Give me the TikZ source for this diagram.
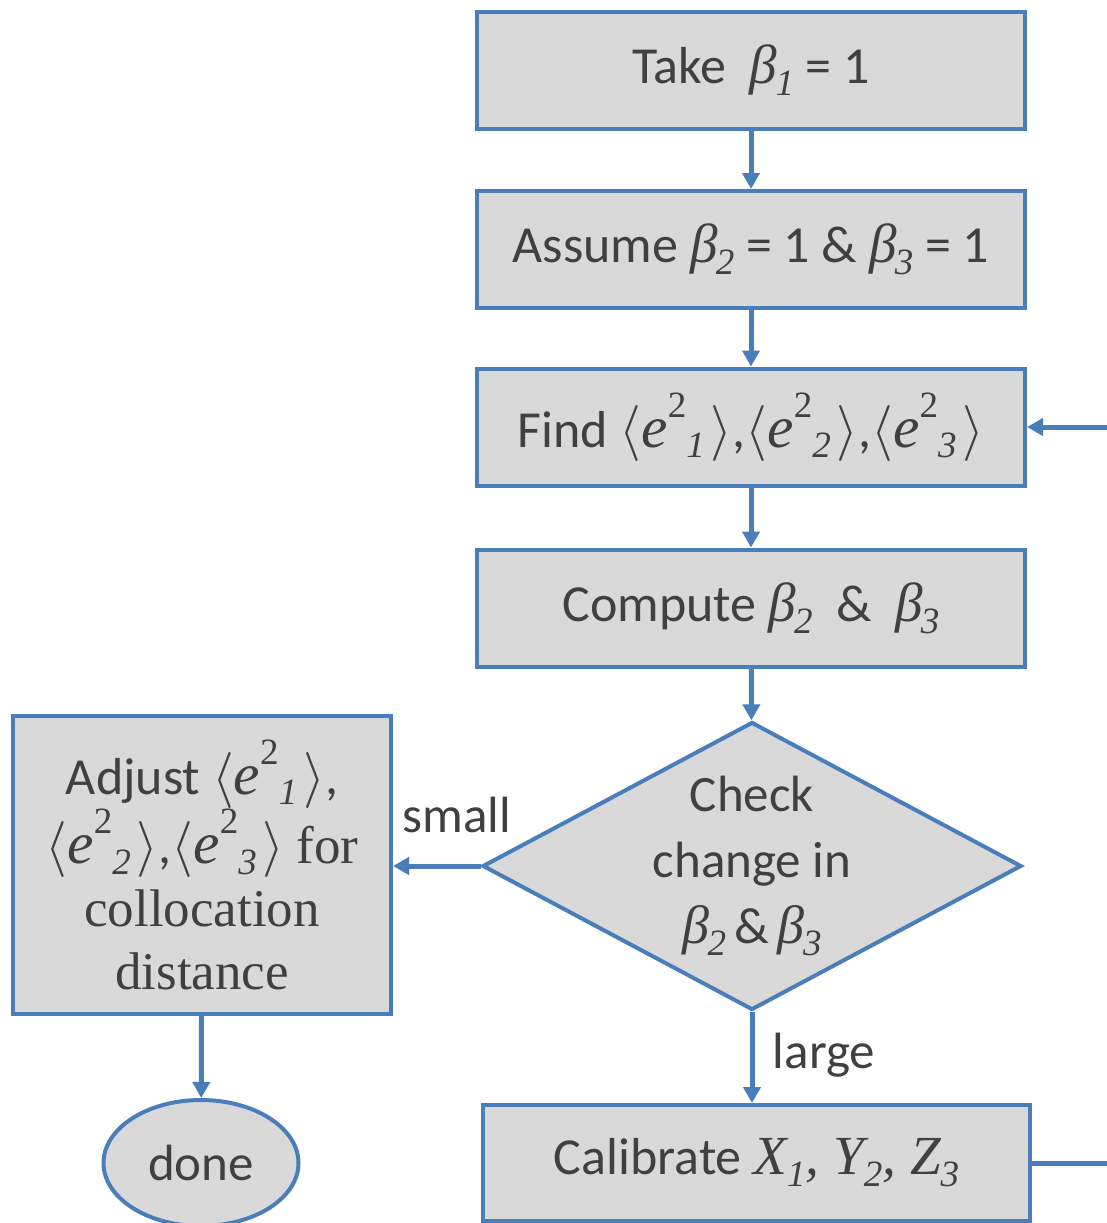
\RequirePackage{fix-cm}
\documentclass[tikz,border=0pt]{standalone}
\usepackage{fontspec}
\setmainfont{Carlito}
\newfontfamily\tnr[Scale=1.06]{Liberation Serif}
\usetikzlibrary{shapes.geometric,arrows.meta}
\definecolor{bl}{HTML}{4A7EBB}
\definecolor{fl}{HTML}{D9D9D9}
\definecolor{tx}{HTML}{404040}
\newcommand\subsz{\fontsize{35}{35}\selectfont}
\newcommand\mb[1]{{\tnr\itshape β\kern-0.03em\raisebox{-0.22em}{\subsz #1}}}
\newcommand\ee[1]{{\tnr\fontsize{56}{60}\selectfont$\langle$\itshape e\raisebox{0.5em}{\subsz\upshape 2}\raisebox{-0.18em}{\subsz #1}\kern0.1em$\rangle$}}
\tikzset{
  boxstyle/.style={draw=bl,fill=fl,line width=4pt,minimum width=548pt,minimum height=117pt,inner sep=0pt,text=tx,font=\fontsize{52}{62}\selectfont},
  conn/.style={draw=bl,line width=5pt,-{Triangle[width=17pt,length=16pt]}},
  lbl/.style={text=tx,font=\fontsize{51}{60}\selectfont,inner sep=0pt},
}
\begin{document}
\begin{tikzpicture}[x=1pt,y=-1pt]
\useasboundingbox (0,0) rectangle (1106,1223);
\node[boxstyle] (b1) at (751,70.5) {Take\ \ \mb{1} = 1};
\node[boxstyle] (b2) at (751,249.5) {Assume \mb{2} = 1 \& \mb{3} = 1};
\node[boxstyle] (b3) at (751,427) {Find \ee{1},\ee{2},\ee{3}};
\node[boxstyle] (b4) at (751,608) {Compute \mb{2}\ \ \&\ \ \mb{3}};
\node[diamond,draw=bl,fill=fl,line width=4pt,minimum width=539pt,minimum height=288pt,inner sep=0pt,aspect=1.87,text=tx,align=center,font=\fontsize{51}{66}\selectfont] (d) at (752,866) {Check\\change in\\\mb{2}\,\&\,\mb{3}};
\node[boxstyle,minimum width=378pt,minimum height=298pt,align=center,font=\fontsize{52}{63}\selectfont] (adj) at (202,865) {Adjust \ee{1},\\\ee{2},\ee{3} {\tnr\fontsize{50}{63}\selectfont for}\\{\tnr\fontsize{50}{63}\selectfont collocation}\\{\tnr\fontsize{50}{63}\selectfont distance}};
\node[ellipse,draw=bl,fill=fl,line width=4pt,minimum width=195pt,minimum height=126pt,inner sep=0pt,text=tx,font=\fontsize{51}{60}\selectfont] (done) at (201,1163) {done};
\node[boxstyle,minimum width=547pt,minimum height=116pt] (cal) at (756.5,1163) {Calibrate {\tnr\itshape X\raisebox{-0.22em}{\subsz 1}, Y\raisebox{-0.22em}{\subsz 2}, Z\raisebox{-0.22em}{\subsz 3}}};
\node[lbl] (small) at (457,815) {small};
\node[lbl] (large) at (824,1055) {large};
\draw[conn] (b1) -- (b2);
\draw[conn] (b2) -- (b3);
\draw[conn] (b3) -- (b4);
\draw[conn] (b4) -- (d);
\draw[conn] (d.west) -- (d.west -| adj.east);
\draw[conn] (d.south) -- (d.south |- cal.north);
\draw[conn] (adj) -- (done);
\draw[conn] (cal.east) -- ++(110,0) |- (b3.east);
\end{tikzpicture}
\end{document}
